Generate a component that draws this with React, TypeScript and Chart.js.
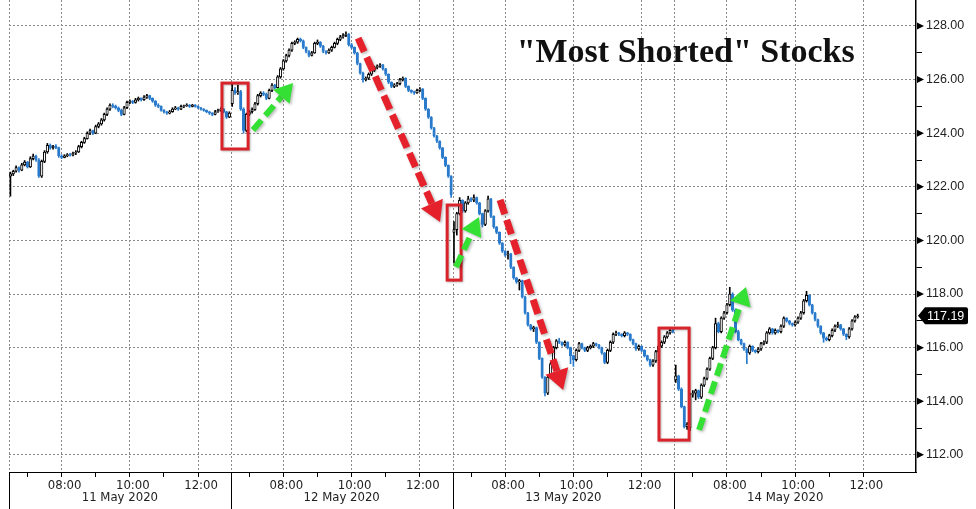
import React, { useEffect, useRef } from 'react';
import { Chart, registerables } from 'chart.js';

Chart.register(...registerables);

// ---------- categories / tick labels ----------
const dayLabels = ['11 May 2020', '12 May 2020', '13 May 2020', '14 May 2020'];
const timeTickLabels = ['08:00', '10:00', '12:00'];
const minorTickTimes = ['07:00', '09:00', '11:00'];
const titleText = '"Most Shorted" Stocks';
const lastPrice = 117.19;

// ---------- 5-minute OHLC, session 06:30-13:00 ----------
const may11Open = [122.40,122.48,122.58,122.72,122.62,122.82,122.92,122.74,123.05,123.15,123.00,122.40,122.95,123.30,123.55,123.45,123.52,123.46,123.15,123.10,123.16,123.20,123.18,123.26,123.30,123.50,123.66,123.80,124.00,124.10,124.00,124.25,124.35,124.50,124.70,124.90,125.05,125.00,124.95,124.85,124.70,124.95,125.15,125.20,125.15,125.25,125.30,125.25,125.35,125.40,125.30,125.20,125.05,125.00,124.85,124.80,124.75,124.80,124.90,124.95,124.90,125.00,125.02,125.05,125.00,125.05,125.00,124.95,124.90,124.85,124.80,124.75,124.70,124.80,124.85,124.90,124.80,124.60];
const may11High = [122.55,122.62,122.78,122.75,122.88,122.98,122.95,123.12,123.22,123.18,123.05,123.00,123.35,123.62,123.60,123.55,123.58,123.48,123.20,123.20,123.24,123.25,123.30,123.35,123.55,123.70,123.85,124.05,124.15,124.12,124.30,124.40,124.55,124.75,124.95,125.10,125.10,125.05,124.98,124.90,125.00,125.20,125.25,125.22,125.30,125.35,125.32,125.40,125.45,125.42,125.32,125.22,125.10,125.02,124.88,124.82,124.85,124.95,125.00,124.97,125.05,125.05,125.10,125.07,125.08,125.07,125.02,124.97,124.92,124.87,124.82,124.77,124.85,124.90,124.95,124.92,124.82,124.80];
const may11Low = [121.65,122.42,122.55,122.55,122.60,122.78,122.70,122.72,123.00,122.95,122.35,122.35,122.90,123.25,123.40,123.40,123.42,123.10,123.05,123.08,123.12,123.14,123.15,123.20,123.28,123.45,123.62,123.78,123.95,123.95,123.98,124.20,124.30,124.45,124.65,124.85,124.95,124.90,124.80,124.65,124.68,124.92,125.10,125.10,125.12,125.20,125.20,125.22,125.30,125.25,125.15,125.00,124.95,124.82,124.75,124.70,124.72,124.78,124.88,124.85,124.88,124.95,125.00,124.96,124.98,124.97,124.92,124.86,124.82,124.76,124.70,124.65,124.68,124.78,124.82,124.76,124.55,124.58];
const may11Close = [122.48,122.58,122.72,122.62,122.82,122.92,122.74,123.05,123.15,123.00,122.40,122.95,123.30,123.55,123.45,123.52,123.46,123.15,123.10,123.16,123.20,123.18,123.26,123.30,123.50,123.66,123.80,124.00,124.10,124.00,124.25,124.35,124.50,124.70,124.90,125.05,125.00,124.95,124.85,124.70,124.95,125.15,125.20,125.15,125.25,125.30,125.25,125.35,125.40,125.30,125.20,125.05,125.00,124.85,124.80,124.75,124.80,124.90,124.95,124.90,125.00,125.02,125.05,125.00,125.05,125.00,124.95,124.90,124.85,124.80,124.75,124.70,124.80,124.85,124.90,124.80,124.60,124.75];

const may12Open = [125.10,125.60,125.50,125.55,124.90,124.10,124.70,124.80,124.88,125.10,125.40,125.50,125.45,125.30,125.60,125.80,125.70,126.10,126.40,126.70,126.90,127.10,127.35,127.40,127.50,127.45,127.20,127.05,126.90,127.00,127.35,127.40,127.25,127.05,127.00,127.10,127.20,127.35,127.50,127.60,127.65,127.70,127.30,127.20,127.00,126.60,126.25,126.00,126.05,126.20,126.35,126.45,126.50,126.55,126.40,126.20,125.90,125.75,125.80,125.85,126.00,126.05,125.75,125.60,125.55,125.50,125.60,125.65,125.30,124.90,124.60,124.20,123.90,123.70,123.45,123.10,122.80,122.40];
const may12High = [125.90,125.70,125.80,125.60,124.95,124.75,124.85,124.95,125.15,125.45,125.55,125.55,125.50,125.65,125.85,125.82,126.15,126.45,126.75,126.95,127.15,127.40,127.45,127.55,127.55,127.48,127.22,127.08,127.05,127.40,127.48,127.42,127.28,127.08,127.15,127.25,127.40,127.55,127.65,127.72,127.78,127.72,127.35,127.22,127.02,126.62,126.28,126.10,126.25,126.40,126.50,126.55,126.60,126.57,126.42,126.22,125.92,125.85,125.90,126.05,126.10,126.07,125.77,125.62,125.57,125.65,125.70,125.67,125.32,124.92,124.62,124.22,123.92,123.72,123.47,123.12,122.82,122.42];
const may12Low = [125.00,125.45,125.45,124.85,124.00,124.05,124.65,124.75,124.85,125.05,125.35,125.40,125.25,125.28,125.55,125.65,125.68,126.05,126.35,126.65,126.85,127.05,127.30,127.35,127.40,127.15,127.00,126.85,126.88,126.98,127.30,127.20,127.00,126.95,126.98,127.05,127.18,127.30,127.45,127.55,127.60,127.25,127.15,126.95,126.55,126.20,125.90,125.95,126.00,126.15,126.30,126.40,126.45,126.35,126.15,125.85,125.70,125.70,125.75,125.80,125.95,125.70,125.55,125.50,125.45,125.48,125.55,125.25,124.85,124.55,124.15,123.85,123.65,123.40,123.05,122.75,122.35,121.60];
const may12Close = [125.60,125.50,125.55,124.90,124.10,124.70,124.80,124.88,125.10,125.40,125.50,125.45,125.30,125.60,125.80,125.70,126.10,126.40,126.70,126.90,127.10,127.35,127.40,127.50,127.45,127.20,127.05,126.90,127.00,127.35,127.40,127.25,127.05,127.00,127.10,127.20,127.35,127.50,127.60,127.65,127.70,127.30,127.20,127.00,126.60,126.25,126.00,126.05,126.20,126.35,126.45,126.50,126.55,126.40,126.20,125.90,125.75,125.80,125.85,126.00,126.05,125.75,125.60,125.55,125.50,125.60,125.65,125.30,124.90,124.60,124.20,123.90,123.70,123.45,123.10,122.80,122.40,121.70];

const may13Open = [120.30,120.40,121.00,121.50,121.10,121.40,121.55,121.50,121.60,121.40,121.00,120.60,121.10,121.55,120.90,120.50,120.30,119.90,119.60,119.45,119.50,119.00,118.60,118.45,118.50,117.90,117.30,116.85,116.70,116.75,116.20,115.60,114.90,114.30,114.90,115.40,116.00,116.25,116.20,116.10,116.20,116.00,115.70,115.55,115.90,116.15,116.00,115.90,116.00,116.05,116.15,116.10,116.00,115.80,115.45,115.90,116.20,116.50,116.55,116.50,116.45,116.55,116.50,116.30,116.15,115.95,116.05,115.90,115.70,115.55,115.35,115.50,115.85,116.05,116.20,116.40,116.55,116.65];
const may13High = [120.70,121.05,121.60,121.52,121.45,121.65,121.60,121.70,121.62,121.42,121.02,121.15,121.65,121.57,120.92,120.52,120.32,119.92,119.62,119.60,119.52,119.02,118.62,118.55,118.52,117.92,117.32,116.87,116.80,116.77,116.22,115.62,114.92,114.95,115.45,116.05,116.30,116.35,116.22,116.25,116.22,116.02,115.72,115.95,116.20,116.17,116.02,116.05,116.10,116.20,116.17,116.12,116.02,115.82,115.95,116.25,116.55,116.62,116.57,116.52,116.60,116.57,116.52,116.32,116.17,116.10,116.07,115.92,115.72,115.57,115.55,115.90,116.10,116.25,116.45,116.60,116.70,116.68];
const may13Low = [119.15,120.20,120.95,121.05,121.05,121.35,121.45,121.45,121.35,120.95,120.50,120.55,121.05,120.85,120.45,120.25,119.85,119.55,119.40,119.30,118.95,118.55,118.40,118.15,117.85,117.25,116.80,116.65,116.60,116.15,115.55,114.85,114.20,114.25,114.85,115.35,115.95,116.15,116.05,116.05,115.95,115.40,115.30,115.50,115.85,115.95,115.85,115.85,115.95,116.00,116.05,115.95,115.75,115.40,115.40,115.85,116.15,116.45,116.45,116.40,116.40,116.45,116.25,116.10,115.90,115.90,115.85,115.65,115.50,115.30,115.30,115.45,115.80,116.00,116.15,116.35,116.50,116.55];
const may13Close = [120.40,121.00,121.50,121.10,121.40,121.55,121.50,121.60,121.40,121.00,120.60,121.10,121.55,120.90,120.50,120.30,119.90,119.60,119.45,119.50,119.00,118.60,118.45,118.50,117.90,117.30,116.85,116.70,116.75,116.20,115.60,114.90,114.30,114.90,115.40,116.00,116.25,116.20,116.10,116.20,116.00,115.70,115.55,115.90,116.15,116.00,115.90,116.00,116.05,116.15,116.10,116.00,115.80,115.45,115.90,116.20,116.50,116.55,116.50,116.45,116.55,116.50,116.30,116.15,115.95,116.05,115.90,115.70,115.55,115.35,115.50,115.85,116.05,116.20,116.40,116.55,116.65,116.60];

const may14Open = [114.80,114.95,114.45,113.80,113.05,113.00,114.25,114.30,114.40,114.15,114.60,114.85,115.20,115.60,116.00,116.90,116.60,117.10,117.30,117.60,118.00,117.40,116.60,116.30,116.15,115.95,115.80,116.05,115.90,115.85,115.95,116.15,116.20,116.55,116.70,116.55,116.65,116.60,116.80,117.10,117.00,116.90,116.85,116.95,117.10,117.30,117.75,117.95,117.60,117.30,117.05,116.80,116.55,116.35,116.30,116.45,116.65,116.80,116.85,116.70,116.50,116.40,116.70,117.00,117.15];
const may14High = [115.35,114.97,114.50,113.82,113.20,114.30,114.40,114.45,114.42,114.65,114.90,115.25,115.65,116.05,117.10,116.95,117.15,117.35,117.65,118.25,118.05,117.45,116.65,116.32,116.17,115.97,116.10,116.07,115.92,116.00,116.20,116.25,116.60,116.75,116.72,116.70,116.67,116.85,117.15,117.12,117.02,116.92,117.00,117.15,117.35,117.80,118.10,117.97,117.62,117.32,117.07,116.82,116.57,116.40,116.50,116.70,116.85,116.95,116.87,116.72,116.52,116.75,117.05,117.20,117.25];
const may14Low = [114.70,114.40,113.75,113.00,112.95,112.90,114.15,114.05,114.10,114.10,114.55,114.80,115.15,115.55,115.95,116.55,116.55,117.05,117.25,117.55,117.35,116.55,116.25,116.10,115.90,115.40,115.75,115.85,115.80,115.80,115.90,116.10,116.15,116.50,116.50,116.50,116.55,116.55,116.75,116.95,116.85,116.80,116.80,116.90,117.05,117.25,117.70,117.55,117.25,117.00,116.75,116.50,116.20,116.25,116.25,116.40,116.60,116.75,116.65,116.45,116.30,116.35,116.65,116.95,117.10];
const may14Close = [114.95,114.45,113.80,113.05,113.15,114.25,114.30,114.40,114.15,114.60,114.85,115.20,115.60,116.00,116.90,116.60,117.10,117.30,117.60,118.00,117.40,116.60,116.30,116.15,115.95,115.80,116.05,115.90,115.85,115.95,116.15,116.20,116.55,116.70,116.55,116.65,116.60,116.80,117.10,117.00,116.90,116.85,116.95,117.10,117.30,117.75,117.95,117.60,117.30,117.05,116.80,116.55,116.35,116.30,116.45,116.65,116.80,116.85,116.70,116.50,116.40,116.70,117.00,117.15,117.19];

// ---------- annotations (in candle-slot / price units) ----------
const redBoxes = [
  { from: 74.4, to: 83.6, top: 125.87, bottom: 123.41 },
  { from: 153.6, to: 158.5, top: 121.32, bottom: 118.52 },
  { from: 228.1, to: 238.7, top: 116.73, bottom: 112.55 },
];
const redArrows = [
  { from: [122.3, 127.55], to: [151.1, 120.69] },
  { from: [172.2, 121.51], to: [194.4, 114.42] },
];
const greenArrows = [
  { from: [85.3, 124.12], to: [99.4, 125.87] },
  { from: [156.7, 119.01], to: [164.8, 120.87] },
  { from: [242.2, 112.93], to: [258.7, 118.26] },
];

// ---------- build the table ----------
const BARS_PER_DAY = 78;
const SESSION_START_MIN = 6 * 60 + 30;
const BAR_MIN = 5;
const PAD_SLOTS = 7;
const TOTAL_SLOTS = BARS_PER_DAY * 4 + PAD_SLOTS;

const opens = [...may11Open, ...may12Open, ...may13Open, ...may14Open];
const highs = [...may11High, ...may12High, ...may13High, ...may14High];
const lows = [...may11Low, ...may12Low, ...may13Low, ...may14Low];
const closes = [...may11Close, ...may12Close, ...may13Close, ...may14Close];

function slotTime(s: number): string {
  if (s >= BARS_PER_DAY * 4) return '';
  const m = SESSION_START_MIN + (s % BARS_PER_DAY) * BAR_MIN;
  const hh = String(Math.floor(m / 60)).padStart(2, '0');
  const mm = String(m % 60).padStart(2, '0');
  return `${hh}:${mm}`;
}
const slotLabels: string[] = [];
for (let s = 0; s < TOTAL_SLOTS; s++) {
  const d = Math.floor(s / BARS_PER_DAY);
  slotLabels.push((dayLabels[d] || '') + ' ' + slotTime(s));
}

const BLUE = '#2b7bcc';
const AXIS_FONT = '"DejaVu Sans Condensed", "Liberation Sans Narrow", "DejaVu Sans", sans-serif';
const PRICE_FONT = '"Liberation Sans", Arial, sans-serif';
const GRID = '#8a8a8a';
const CLEAR = 'rgba(0,0,0,0)';

function drawArrow(ctx: CanvasRenderingContext2D, x1: number, y1: number, x2: number, y2: number, color: string, width: number, head: number, dash: number[]) {
  const ang = Math.atan2(y2 - y1, x2 - x1);
  const bx = x2 - Math.cos(ang) * head;
  const by = y2 - Math.sin(ang) * head;
  ctx.save();
  ctx.shadowColor = 'rgba(0,0,0,0.28)';
  ctx.shadowBlur = 3;
  ctx.shadowOffsetX = 1.5;
  ctx.shadowOffsetY = 1.5;
  ctx.strokeStyle = color;
  ctx.lineWidth = width;
  ctx.lineCap = 'butt';
  ctx.setLineDash(dash);
  ctx.beginPath();
  ctx.moveTo(x1, y1);
  ctx.lineTo(bx, by);
  ctx.stroke();
  ctx.setLineDash([]);
  ctx.fillStyle = color;
  const hw = head * 0.6;
  ctx.beginPath();
  ctx.moveTo(x2, y2);
  ctx.lineTo(bx + Math.cos(ang + Math.PI / 2) * hw, by + Math.sin(ang + Math.PI / 2) * hw);
  ctx.lineTo(bx - Math.cos(ang + Math.PI / 2) * hw, by - Math.sin(ang + Math.PI / 2) * hw);
  ctx.closePath();
  ctx.fill();
  ctx.restore();
}

const overlayPlugin = {
  id: 'overlay',
  beforeDatasetsDraw(chart: any) {
    const { ctx, chartArea } = chart;
    const xs = chart.scales.x;
    const slotW = (chartArea.right - chartArea.left) / TOTAL_SLOTS;
    ctx.save();
    ctx.strokeStyle = GRID;
    ctx.lineWidth = 1;
    ctx.setLineDash([2, 2]);
    for (let d = 0; d < 4; d++) {
      const px = Math.round(xs.getPixelForValue(d * BARS_PER_DAY) - slotW / 2) + 0.5;
      ctx.beginPath();
      ctx.moveTo(px, chartArea.top);
      ctx.lineTo(px, chartArea.bottom);
      ctx.stroke();
    }
    ctx.restore();
  },
  afterDatasetsDraw(chart: any) {
    const { ctx } = chart;
    const xs = chart.scales.x;
    const ys = chart.scales.y;
    ctx.save();
    ctx.shadowColor = 'rgba(0,0,0,0.25)';
    ctx.shadowBlur = 2;
    ctx.shadowOffsetX = 1;
    ctx.shadowOffsetY = 1;
    ctx.strokeStyle = '#d9232b';
    ctx.lineWidth = 3;
    for (const b of redBoxes) {
      const x0 = xs.getPixelForValue(b.from);
      const x1 = xs.getPixelForValue(b.to);
      const y0 = ys.getPixelForValue(b.top);
      const y1 = ys.getPixelForValue(b.bottom);
      ctx.strokeRect(x0, y0, x1 - x0, y1 - y0);
    }
    ctx.restore();
    for (const a of redArrows) {
      drawArrow(ctx, xs.getPixelForValue(a.from[0]), ys.getPixelForValue(a.from[1]), xs.getPixelForValue(a.to[0]), ys.getPixelForValue(a.to[1]), '#e5212b', 7, 20, [15, 6]);
    }
    for (const a of greenArrows) {
      drawArrow(ctx, xs.getPixelForValue(a.from[0]), ys.getPixelForValue(a.from[1]), xs.getPixelForValue(a.to[0]), ys.getPixelForValue(a.to[1]), '#35e035', 6, 18, [13, 6]);
    }
  },
  afterDraw(chart: any) {
    const { ctx, chartArea, width, height } = chart;
    const xs = chart.scales.x;
    const ys = chart.scales.y;
    const slotW = (chartArea.right - chartArea.left) / TOTAL_SLOTS;
    ctx.save();
    // day separators below the axis + date labels
    ctx.strokeStyle = '#000';
    ctx.lineWidth = 1;
    for (let d = 0; d < 4; d++) {
      const px = Math.round(xs.getPixelForValue(d * BARS_PER_DAY) - slotW / 2) + 0.5;
      ctx.beginPath();
      ctx.moveTo(px, chartArea.bottom);
      ctx.lineTo(px, height);
      ctx.stroke();
      const cx = xs.getPixelForValue(d * BARS_PER_DAY + BARS_PER_DAY / 2) - slotW / 2;
      ctx.fillStyle = '#222';
      ctx.font = `13px ${AXIS_FONT}`;
      ctx.textAlign = 'center';
      ctx.textBaseline = 'middle';
      ctx.fillText(dayLabels[d], cx, chartArea.bottom + 26);
    }
    // triangle markers on labelled price ticks
    ctx.fillStyle = '#000';
    for (const t of ys.ticks) {
      if (Math.abs(t.value % 2) < 1e-6) {
        const py = ys.getPixelForValue(t.value);
        const ax = chartArea.right + 1;
        ctx.beginPath();
        ctx.moveTo(ax, py - 3.5);
        ctx.lineTo(ax + 7, py);
        ctx.lineTo(ax, py + 3.5);
        ctx.closePath();
        ctx.fill();
      }
    }
    // last price tag
    const py = ys.getPixelForValue(lastPrice);
    const l = chartArea.right + 2;
    const r = Math.min(width - 8, chartArea.right + 52);
    ctx.fillStyle = '#000';
    ctx.beginPath();
    ctx.moveTo(l, py);
    ctx.lineTo(l + 7, py - 8.5);
    ctx.lineTo(r - 2, py - 8.5);
    ctx.quadraticCurveTo(r, py - 8.5, r, py - 6.5);
    ctx.lineTo(r, py + 6.5);
    ctx.quadraticCurveTo(r, py + 8.5, r - 2, py + 8.5);
    ctx.lineTo(l + 7, py + 8.5);
    ctx.closePath();
    ctx.fill();
    ctx.fillStyle = '#fff';
    ctx.font = `12.5px ${PRICE_FONT}`;
    ctx.textAlign = 'left';
    ctx.textBaseline = 'middle';
    ctx.fillText(lastPrice.toFixed(2), l + 9, py + 0.5);
    // title
    ctx.fillStyle = '#111';
    ctx.font = `bold 34px "Liberation Serif", "Times New Roman", serif`;
    ctx.textAlign = 'center';
    ctx.textBaseline = 'alphabetic';
    ctx.fillText(titleText, xs.getPixelForValue(237.5), 62);
    ctx.restore();
  },
};

export default function App() {
  const canvasRef = useRef<HTMLCanvasElement | null>(null);

  useEffect(() => {
    const canvas = canvasRef.current;
    if (!canvas) return;
    const n = closes.length;
    const bodies: any[] = [];
    const wicks: any[] = [];
    const bodyFill: string[] = [];
    const bodyBorder: string[] = [];
    const wickColor: string[] = [];
    for (let s = 0; s < TOTAL_SLOTS; s++) {
      if (s < n) {
        const up = closes[s] >= opens[s];
        bodies.push([opens[s], closes[s]]);
        wicks.push([lows[s], highs[s]]);
        bodyFill.push(up ? '#ffffff' : BLUE);
        bodyBorder.push(up ? '#000000' : BLUE);
        wickColor.push(up ? '#000000' : BLUE);
      } else {
        bodies.push(null);
        wicks.push(null);
        bodyFill.push(CLEAR);
        bodyBorder.push(CLEAR);
        wickColor.push(CLEAR);
      }
    }

    const chart = new Chart(canvas, {
      type: 'bar',
      data: {
        labels: slotLabels,
        datasets: [
          {
            label: 'wick',
            data: wicks,
            backgroundColor: wickColor,
            borderWidth: 0,
            barThickness: 1,
            grouped: false,
            order: 2,
          } as any,
          {
            label: 'body',
            data: bodies,
            backgroundColor: bodyFill,
            borderColor: bodyBorder,
            borderWidth: 1,
            borderSkipped: false,
            barThickness: 2.5,
            grouped: false,
            order: 1,
          } as any,
        ],
      },
      plugins: [overlayPlugin],
      options: {
        animation: false,
        responsive: false,
        devicePixelRatio: 1,
        layout: { padding: { left: 9, right: 0, top: 0, bottom: 0 } },
        plugins: {
          legend: { display: false },
          tooltip: { enabled: false },
          title: { display: false },
        },
        scales: {
          x: {
            type: 'category',
            offset: true,
            grid: {
              offset: false,
              drawOnChartArea: true,
              color: (c: any) => (timeTickLabels.includes(slotTime(c.index)) ? GRID : CLEAR),
              tickColor: (c: any) => {
                const t = slotTime(c.index);
                return timeTickLabels.includes(t) || minorTickTimes.includes(t) ? '#000' : CLEAR;
              },
              tickLength: 5,
              lineWidth: 1,
            },
            border: { display: true, color: '#000', width: 1, dash: [2, 2] },
            ticks: {
              autoSkip: false,
              maxRotation: 0,
              minRotation: 0,
              padding: 1,
              labelOffset: 3,
              color: '#222',
              font: { family: AXIS_FONT, size: 13 },
              callback: (v: any, i: number) => {
                const t = slotTime(i);
                return timeTickLabels.includes(t) ? t : '';
              },
            },
            afterFit: (s: any) => {
              s.height = 37;
              s.paddingLeft = 0;
              s.paddingRight = 0;
            },
          },
          y: {
            position: 'right',
            min: 111.36,
            max: 128.97,
            grid: {
              color: (c: any) => (c.tick && Math.abs(c.tick.value % 2) < 1e-6 ? GRID : CLEAR),
              tickColor: (c: any) => (c.tick && Math.abs(c.tick.value % 2) > 0.5 ? '#000' : CLEAR),
              tickLength: 6,
              lineWidth: 1,
            },
            border: { display: true, color: '#000', width: 1.5, dash: [2, 2] },
            ticks: {
              stepSize: 1,
              includeBounds: false,
              padding: 4,
              color: '#222',
              font: { family: PRICE_FONT, size: 12.5 },
              callback: (v: any) => (Math.abs(Number(v) % 2) < 1e-6 ? Number(v).toFixed(2) : ''),
            },
            afterFit: (s: any) => {
              s.width = 60;
              s.paddingTop = 0;
              s.paddingBottom = 0;
            },
          },
        },
      } as any,
    });
    return () => chart.destroy();
  }, []);

  return (
    <div style={{ position: 'absolute', left: 0, top: 0, width: 976, height: 509, background: '#fff' }}>
      <canvas ref={canvasRef} width={976} height={509} style={{ display: 'block' }} />
    </div>
  );
}
